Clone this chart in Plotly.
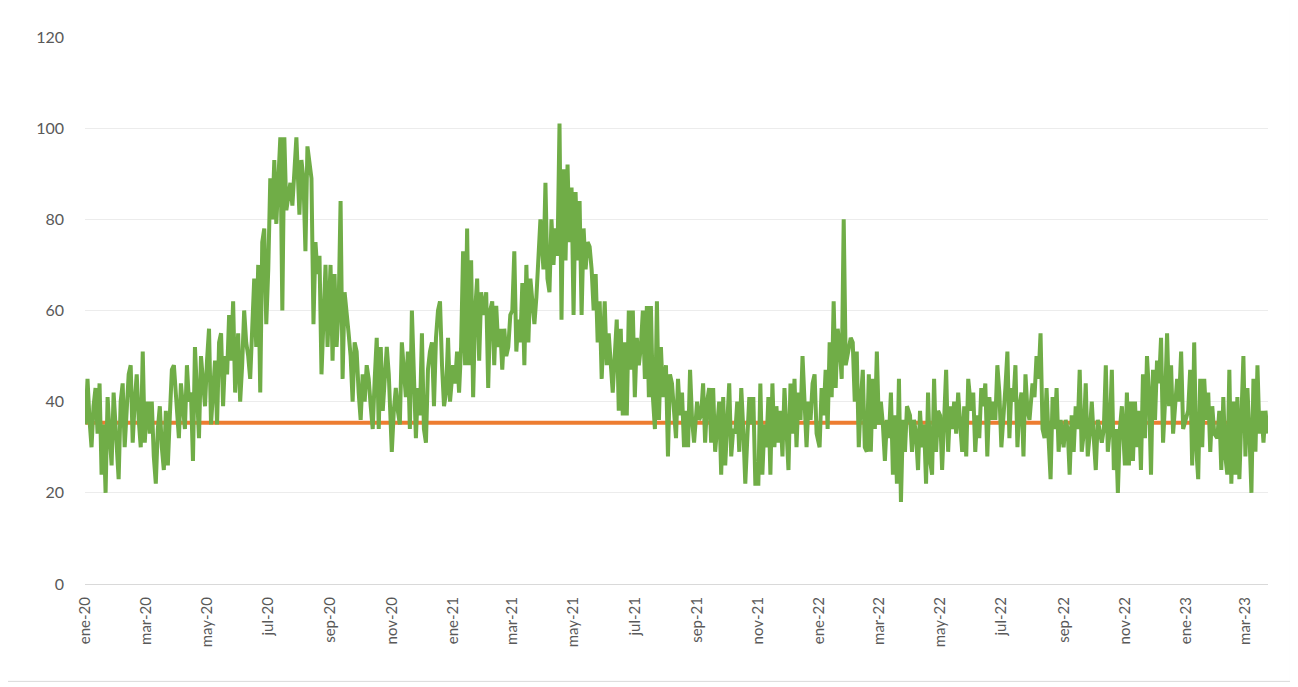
import plotly.graph_objects as go
import pandas as pd

# readings every 2nd day of each month
values_2020 = [
    [35, 45, 36, 30, 39, 43, 33, 44, 24, 35, 20, 41, 33, 26, 42],   # ene
    [32, 23, 40, 44, 30, 38, 46, 48, 31, 40, 46, 36, 30, 51, 31],   # feb
    [35, 40, 33, 40, 28, 22, 34, 39, 30, 25, 38, 26, 37, 47, 48],   # mar
    [38, 32, 44, 40, 34, 48, 40, 42, 27, 52, 40, 32, 50, 44, 39],   # abr
    [49, 56, 35, 44, 49, 35, 53, 55, 39, 50, 46, 59, 49, 62, 42],   # may
    [55, 40, 48, 60, 53, 50, 45, 58, 67, 52, 70, 42, 75, 78, 57],   # jun
    [69, 89, 80, 93, 79, 88, 98, 60, 98, 82, 85, 88, 83, 91, 98],   # jul
    [81, 93, 89, 73, 96, 92, 89, 57, 75, 68, 72, 46, 60, 70, 52],   # ago
    [70, 49, 68, 52, 60, 84, 45, 64, 58, 55, 50, 40, 53, 51, 42],   # sep
    [36, 46, 40, 48, 45, 39, 34, 45, 54, 34, 52, 38, 45, 52, 46],   # oct
    [29, 38, 43, 38, 35, 53, 47, 41, 51, 34, 60, 45, 32, 43, 37],   # nov
    [55, 34, 31, 47, 51, 53, 39, 54, 60, 62, 48, 39, 42, 54, 40],   # dic
]
values_2021 = [
    [48, 44, 51, 42, 52, 73, 48, 78, 48, 71, 41, 60, 67, 49, 64],
    [59, 64, 43, 60, 62, 48, 61, 52, 56, 47, 56, 50, 52, 59],
    [60, 73, 51, 58, 53, 66, 48, 70, 53, 67, 62, 57, 63, 74, 80],
    [69, 88, 67, 64, 80, 70, 78, 72, 101, 58, 91, 71, 92, 75, 87],
    [59, 86, 71, 84, 59, 78, 69, 75, 74, 69, 60, 68, 53, 62, 45],
    [62, 48, 55, 49, 42, 50, 58, 38, 56, 37, 53, 37, 60, 47, 60],
    [41, 54, 48, 52, 60, 45, 61, 41, 61, 41, 34, 62, 36, 52, 41],
    [48, 28, 46, 44, 37, 32, 45, 37, 42, 30, 38, 30, 47, 36, 31],
    [40, 36, 37, 44, 31, 40, 43, 31, 43, 29, 34, 40, 24, 41, 26],
    [36, 44, 28, 34, 33, 40, 29, 43, 34, 22, 32, 41, 35, 41, 22],
    [22, 44, 24, 35, 30, 41, 24, 44, 30, 39, 31, 38, 28, 43, 32],
    [25, 44, 33, 45, 30, 42, 36, 50, 38, 30, 40, 36, 44, 46, 33],
]
values_2022 = [
    [30, 43, 37, 47, 34, 53, 41, 62, 43, 56, 52, 45, 80, 48, 50],
    [54, 53, 40, 51, 30, 40, 47, 30, 29, 46, 29, 45, 34, 51],
    [35, 40, 35, 27, 36, 32, 42, 24, 37, 22, 45, 18, 36, 29, 39],
    [37, 29, 36, 33, 25, 38, 30, 35, 22, 42, 27, 24, 45, 29, 38],
    [37, 25, 35, 47, 29, 39, 34, 40, 33, 42, 35, 29, 39, 28, 45],
    [38, 42, 29, 37, 32, 43, 39, 44, 28, 41, 36, 40, 36, 48, 42],
    [30, 36, 43, 51, 32, 43, 40, 48, 30, 39, 42, 28, 46, 38, 36],
    [44, 41, 50, 45, 55, 34, 32, 43, 32, 23, 41, 34, 43, 29, 36],
    [30, 36, 34, 24, 37, 29, 39, 34, 47, 29, 33, 44, 28, 33, 40],
    [32, 25, 36, 33, 31, 34, 48, 29, 34, 47, 25, 34, 20, 34, 39],
    [26, 42, 26, 40, 27, 40, 30, 38, 25, 46, 32, 50, 42, 24, 47],
    [36, 49, 44, 54, 31, 40, 55, 39, 48, 33, 38, 45, 40, 51, 34],
]
values_2023 = [
    [36, 38, 47, 26, 53, 30, 23, 45, 30, 45, 36, 42, 29, 39, 33],
    [32, 38, 25, 41, 28, 24, 47, 22, 40, 24, 41, 23, 38, 50],
    [28, 43, 33, 20, 45, 29, 48, 33, 38, 31, 38, 33],
]
average_value = 35.4

month_names = ["ene", "feb", "mar", "abr", "may", "jun",
               "jul", "ago", "sep", "oct", "nov", "dic"]

monthly = values_2020 + values_2021 + values_2022 + values_2023
month_starts = pd.date_range("2020-01-01", periods=len(monthly), freq="MS")

dates = []
green_values = []
for start, vals in zip(month_starts, monthly):
    for k, v in enumerate(vals):
        dates.append(start + pd.Timedelta(days=2 * k))
        green_values.append(v)

tick_dates = pd.date_range("2020-01-01", "2023-03-01", freq="2MS")
tick_text = [f"{month_names[d.month - 1]}-{str(d.year)[2:]}" for d in tick_dates]

fig = go.Figure()
fig.add_trace(go.Scatter(
    x=[dates[0], dates[-1]], y=[average_value, average_value],
    mode="lines", line=dict(color="#ED7D31", width=4), hoverinfo="skip"
))
fig.add_trace(go.Scatter(
    x=dates, y=green_values, mode="lines",
    line=dict(color="#70AD47", width=4)
))

font_family = "Lato, 'Open Sans', sans-serif"
# page body has an 8px margin, so the figure is 8px smaller than the window
fig.update_layout(
    width=1290, height=679,
    margin=dict(l=77, r=30, t=29, b=103),
    paper_bgcolor="white", plot_bgcolor="white",
    showlegend=False,
    font=dict(family=font_family, size=15, color="#595959"),
)
fig.update_xaxes(
    range=[pd.Timestamp("2019-12-31 12:00"), pd.Timestamp("2023-03-23 12:00")],
    tickvals=tick_dates, ticktext=tick_text, tickangle=-90,
    showgrid=False, showline=True, linecolor="#d9d9d9", linewidth=1,
    ticks="", ticklabelstandoff=6, zeroline=False,
)
fig.update_yaxes(
    range=[0, 120], tickvals=[0, 20, 40, 60, 80, 100, 120],
    showgrid=True, gridcolor="#ececec", gridwidth=1,
    zeroline=False, showline=False, ticks="", ticklabelstandoff=20,
    tickfont=dict(size=16),
)
fig.add_shape(type="rect", xref="paper", yref="paper",
              x0=-0.066, x1=1.019, y0=-0.178, y1=1.062,
              line=dict(color="#d9d9d9", width=1), layer="below")

fig.write_html("out.html")
